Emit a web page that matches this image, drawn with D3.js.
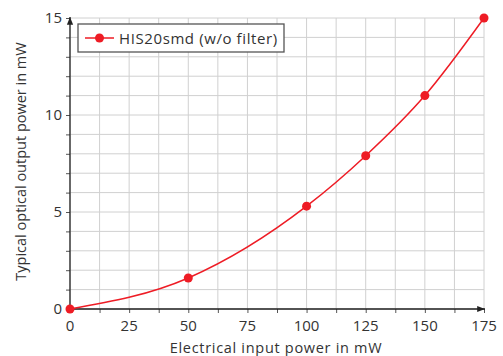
<!DOCTYPE html>
<html>
<head>
<meta charset="utf-8">
<script src="https://cdn.jsdelivr.net/npm/d3@7"></script>
<style>
  body { margin: 0; background: #fff; }
  text { font-family: "Open Sans", sans-serif; fill: #333; }
</style>
</head>
<body>
<div id="chart"></div>
<script>
// DATA
const seriesName = "HIS20smd (w/o filter)";
const inputPower = [0, 50, 100, 125, 150, 175];
const outputPower = [0, 1.6, 5.3, 7.9, 11.0, 15.0];
const xTicks = [0, 25, 50, 75, 100, 125, 150, 175];
const yTicks = [0, 5, 10, 15];

// SETUP
const W = 503, H = 356;
const margin = { top: 18, right: 19, bottom: 47, left: 70 },
      width = W - margin.left - margin.right,
      height = H - margin.top - margin.bottom;

const svg = d3.select("#chart").append("svg")
    .attr("width", W).attr("height", H)
  .append("g")
    .attr("transform", `translate(${margin.left},${margin.top})`);

const x = d3.scaleLinear().domain([0, 175]).range([0, width]);
const y = d3.scaleLinear().domain([0, 15]).range([height, 0]);

// grid: x every 12.5, y every 1
const xGrid = d3.range(0, 175.1, 12.5);
const yGrid = d3.range(0, 15.1, 1);
svg.append("g").selectAll("line").data(xGrid).join("line")
    .attr("x1", d => x(d)).attr("x2", d => x(d))
    .attr("y1", 0).attr("y2", height)
    .attr("stroke", "#d0d0d0").attr("stroke-width", 1);
svg.append("g").selectAll("line").data(yGrid).join("line")
    .attr("x1", 0).attr("x2", width)
    .attr("y1", d => y(d)).attr("y2", d => y(d))
    .attr("stroke", "#d0d0d0").attr("stroke-width", 1);

// axes
svg.append("defs").append("marker")
    .attr("id", "arrow").attr("viewBox", "0 0 10 10")
    .attr("refX", 10).attr("refY", 5)
    .attr("markerWidth", 6).attr("markerHeight", 6)
    .attr("orient", "auto")
  .append("path").attr("d", "M0,1 L10,5 L0,9 Z").attr("fill", "#222");

const xAxis = svg.append("g")
    .attr("transform", `translate(0,${height})`)
    .call(d3.axisBottom(x).tickValues(xGrid).tickSize(4).tickFormat(""));
xAxis.select(".domain").remove();
xAxis.selectAll("line").attr("stroke", "#555");

const yAxis = svg.append("g")
    .call(d3.axisLeft(y).tickValues(yGrid).tickSize(4).tickFormat(""));
yAxis.select(".domain").remove();
yAxis.selectAll("line").attr("stroke", "#555");

svg.append("line")
    .attr("x1", 0).attr("x2", width + 1)
    .attr("y1", height).attr("y2", height)
    .attr("stroke", "#222").attr("stroke-width", 1.3)
    .attr("marker-end", "url(#arrow)");
svg.append("line")
    .attr("x1", 0).attr("x2", 0)
    .attr("y1", height).attr("y2", -1)
    .attr("stroke", "#222").attr("stroke-width", 1.3)
    .attr("marker-end", "url(#arrow)");

// tick labels
svg.append("g").selectAll("text").data(xTicks).join("text")
    .attr("x", d => x(d)).attr("y", height + 22)
    .attr("text-anchor", "middle")
    .style("font-size", "15px")
    .text(d => d);
svg.append("g").selectAll("text").data(yTicks).join("text")
    .attr("x", -8).attr("y", d => y(d) + 5)
    .attr("text-anchor", "end")
    .style("font-size", "15px")
    .text(d => d);

// axis titles
svg.append("text")
    .attr("x", width / 2 - 1).attr("y", height + 44)
    .attr("text-anchor", "middle")
    .style("font-size", "14.5px")
    .style("letter-spacing", "0.7px")
    .text("Electrical input power in mW");
svg.append("text")
    .attr("transform", "rotate(-90)")
    .attr("x", -height / 2 + 2).attr("y", -44)
    .attr("text-anchor", "middle")
    .style("font-size", "14.5px")
    .text("Typical optical output power in mW");

// line + points
const pts = inputPower.map((v, i) => ({ x: v, y: outputPower[i] }));
svg.append("path")
    .datum(pts)
    .attr("d", d3.line().x(d => x(d.x)).y(d => y(d.y)).curve(d3.curveMonotoneX))
    .attr("fill", "none").attr("stroke", "#ee1c25").attr("stroke-width", 1.5);
svg.append("g").selectAll("circle").data(pts).join("circle")
    .attr("cx", d => x(d.x)).attr("cy", d => y(d.y)).attr("r", 4.5)
    .attr("fill", "#ee1c25");

// legend
const lg = svg.append("g").attr("transform", "translate(8,6)");
lg.append("rect")
    .attr("width", 206).attr("height", 28)
    .attr("fill", "#fff").attr("stroke", "#555").attr("stroke-width", 1.3);
lg.append("line")
    .attr("x1", 7).attr("x2", 36).attr("y1", 14).attr("y2", 14)
    .attr("stroke", "#ee1c25").attr("stroke-width", 1.5);
lg.append("circle").attr("cx", 21.5).attr("cy", 14).attr("r", 4.5).attr("fill", "#ee1c25");
lg.append("text")
    .attr("x", 41).attr("y", 19.5)
    .style("font-size", "15px")
    .style("letter-spacing", "0.6px")
    .text(seriesName);
</script>
</body>
</html>
